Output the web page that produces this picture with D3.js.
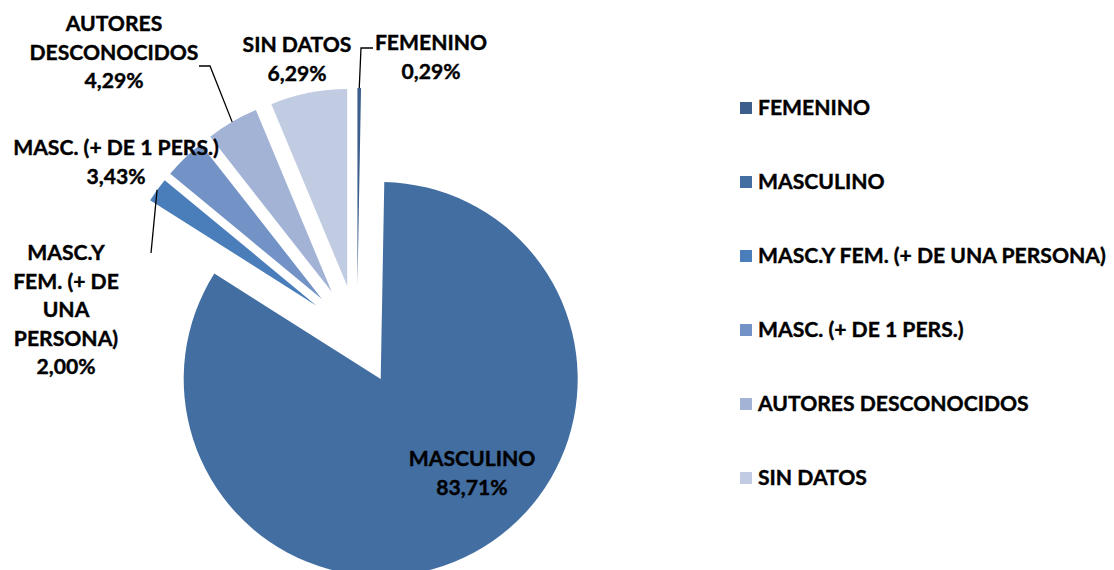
<!DOCTYPE html>
<html>
<head>
<meta charset="utf-8">
<script src="https://cdn.jsdelivr.net/npm/d3@7"></script>
<style>
  html, body { margin: 0; padding: 0; background: #fff; }
  svg { display: block; }
  text { font-family: Lato, "Open Sans", sans-serif; font-weight: 700; fill: #000; stroke: #000; stroke-width: 0.4px; }
</style>
</head>
<body>
<svg id="chart" width="1114" height="570"></svg>
<script>
// ---- data ----
const categories = ["FEMENINO", "MASCULINO", "MASC.Y FEM. (+ DE UNA PERSONA)", "MASC. (+ DE 1 PERS.)", "AUTORES DESCONOCIDOS", "SIN DATOS"];
const values = [0.29, 83.71, 2.00, 3.43, 4.29, 6.29];
const valueLabels = ["0,29%", "83,71%", "2,00%", "3,43%", "4,29%", "6,29%"];
const labelNames = [["FEMENINO"], ["MASCULINO"], ["MASC.Y", "FEM. (+ DE", "UNA", "PERSONA)"], ["MASC. (+ DE 1 PERS.)"], ["AUTORES", "DESCONOCIDOS"], ["SIN DATOS"]];
const colors = ["#3B5E8D", "#436EA2", "#4A7EBB", "#7393C7", "#A2B3D6", "#C1CCE3"];

// ---- layout ----
const W = 1114, H = 570;
const cx = 357, cy = 335, R = 197, explode = 50;
const lineH = 28.5;
const labelLayout = [
  { x: 431, y: 50, leader: [[361, 48], [373, 48]] },
  { x: 472, y: 466, leader: null },
  { x: 66, y: 260, leader: [[151, 253]] },
  { x: 116, y: 155, leader: null },
  { x: 114, y: 31, leader: [[210, 66], [199, 66]] },
  { x: 297, y: 52, leader: null }
];

const svg = d3.select("#chart");
svg.append("rect").attr("width", W).attr("height", H).attr("fill", "#fff");

// fit font size so the longest legend entry matches reference width (~348px)
const probe = svg.append("text").attr("font-size", 24).text(categories[2]);
const fs = 24 * 348 / probe.node().getComputedTextLength();
probe.remove();

const pie = d3.pie().sort(null).value(d => d)(values);
const arc = d3.arc().innerRadius(0).outerRadius(R);

const g = svg.append("g").attr("transform", `translate(${cx},${cy})`);

function offset(d) {
  const a = (d.startAngle + d.endAngle) / 2;
  return [Math.sin(a) * explode, -Math.cos(a) * explode];
}

g.selectAll("path.slice").data(pie).join("path")
  .attr("class", "slice")
  .attr("d", arc)
  .attr("fill", (d, i) => colors[i])
  .attr("transform", d => { const o = offset(d); return `translate(${o[0]},${o[1]})`; });

// leader lines
pie.forEach((d, i) => {
  const L = labelLayout[i];
  if (!L.leader) return;
  const a = (d.startAngle + d.endAngle) / 2;
  const rr = R + explode;
  const start = [cx + Math.sin(a) * rr, cy - Math.cos(a) * rr];
  const pts = [start].concat(L.leader);
  svg.append("path")
    .attr("d", d3.line()(pts))
    .attr("fill", "none")
    .attr("stroke", "#000")
    .attr("stroke-width", 1.3);
});

// data labels
labelLayout.forEach((L, i) => {
  const lines = labelNames[i].concat([valueLabels[i]]);
  const t = svg.append("text")
    .attr("text-anchor", "middle")
    .attr("font-size", fs);
  lines.forEach((s, k) => {
    t.append("tspan").attr("x", L.x).attr("y", L.y + k * lineH).text(s);
  });
});

// legend
const legend = svg.append("g");
const legY = d3.scalePoint().domain(categories).range([115, 485]);
const items = legend.selectAll("g").data(categories).join("g")
  .attr("transform", d => `translate(740,${legY(d)})`);
items.append("rect")
  .attr("x", 0).attr("y", -13).attr("width", 12).attr("height", 12)
  .attr("fill", (d, i) => colors[i]);
items.append("text")
  .attr("x", 18).attr("y", 0)
  .attr("font-size", fs)
  .text(d => d);
</script>
</body>
</html>
